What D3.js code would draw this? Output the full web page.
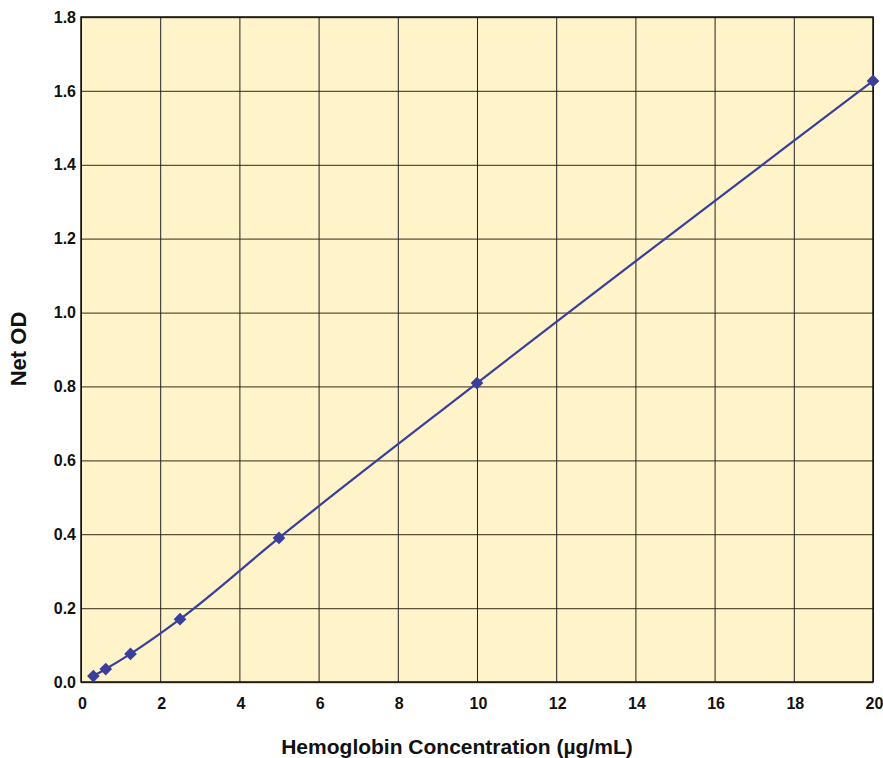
<!DOCTYPE html>
<html>
<head>
<meta charset="utf-8">
<script src="https://cdn.jsdelivr.net/npm/d3@7"></script>
<style>
  body { margin: 0; background: #fff; }
  text { font-family: "Liberation Sans", Arial, sans-serif; font-weight: bold; fill: #111; }
</style>
</head>
<body>
<svg id="chart"></svg>
<script>
const concentrations = [0.3125, 0.625, 1.25, 2.5, 5, 10, 20];
const netOD = [0.016, 0.035, 0.076, 0.17, 0.39, 0.809, 1.627];
const xTicks = [0, 2, 4, 6, 8, 10, 12, 14, 16, 18, 20];
const yTicks = [0, 0.2, 0.4, 0.6, 0.8, 1.0, 1.2, 1.4, 1.6, 1.8];

const width = 883, height = 758;
const margin = { top: 17, right: 10, bottom: 76, left: 81 };
const chartWidth = width - margin.left - margin.right;
const chartHeight = height - margin.top - margin.bottom;

const svg = d3.select('#chart').attr('width', width).attr('height', height);
const g = svg.append('g').attr('transform', `translate(${margin.left},${margin.top})`);

const xScale = d3.scaleLinear().domain([0, 20]).range([0, chartWidth]);
const yScale = d3.scaleLinear().domain([0, 1.8]).range([chartHeight, 0]);

// plot background
g.append('rect')
  .attr('width', chartWidth)
  .attr('height', chartHeight)
  .attr('fill', '#fef3c9');

// horizontal grid
g.append('g')
  .call(d3.axisLeft(yScale).tickValues(yTicks).tickSize(-chartWidth).tickFormat(''))
  .call(s => s.select('.domain').remove())
  .selectAll('line').attr('stroke', '#5c5236').attr('stroke-width', 1.3);

// vertical grid
g.append('g')
  .attr('transform', `translate(0,${chartHeight})`)
  .call(d3.axisBottom(xScale).tickValues(xTicks).tickSize(-chartHeight).tickFormat(''))
  .call(s => s.select('.domain').remove())
  .selectAll('line').attr('stroke', '#222').attr('stroke-width', 1);

// frame
g.append('rect')
  .attr('width', chartWidth)
  .attr('height', chartHeight)
  .attr('fill', 'none')
  .attr('stroke', '#111')
  .attr('stroke-width', 1.5);

// X axis labels
g.append('g')
  .attr('transform', `translate(1,${chartHeight})`)
  .call(d3.axisBottom(xScale).tickValues(xTicks).tickSize(0).tickPadding(16))
  .call(s => s.select('.domain').remove())
  .selectAll('text')
  .style('font-size', '16px');

// Y axis labels
g.append('g')
  .call(d3.axisLeft(yScale).tickValues(yTicks).tickSize(0).tickPadding(5).tickFormat(d3.format('.1f')))
  .call(s => s.select('.domain').remove())
  .selectAll('text')
  .style('font-size', '16px');

// axis titles
svg.append('text')
  .attr('x', 457)
  .attr('y', 754)
  .attr('text-anchor', 'middle')
  .style('font-size', '21px')
  .text('Hemoglobin Concentration (µg/mL)');

svg.append('text')
  .attr('transform', `translate(26,349) rotate(-90)`)
  .attr('text-anchor', 'middle')
  .style('font-size', '22px')
  .text('Net OD');

const data = concentrations.map((c, i) => ({ x: c, y: netOD[i] }));

const line = d3.line()
  .x(d => xScale(d.x))
  .y(d => yScale(d.y))
  .curve(d3.curveMonotoneX);

g.append('path')
  .datum(data)
  .attr('d', line)
  .attr('fill', 'none')
  .attr('stroke', '#3a3f9b')
  .attr('stroke-width', 2.2);

g.selectAll('.pt')
  .data(data)
  .enter()
  .append('path')
  .attr('class', 'pt')
  .attr('d', d3.symbol().type(d3.symbolSquare).size(80))
  .attr('transform', d => `translate(${xScale(d.x)},${yScale(d.y)}) rotate(45)`)
  .attr('fill', '#3a3f9b');
</script>
</body>
</html>
